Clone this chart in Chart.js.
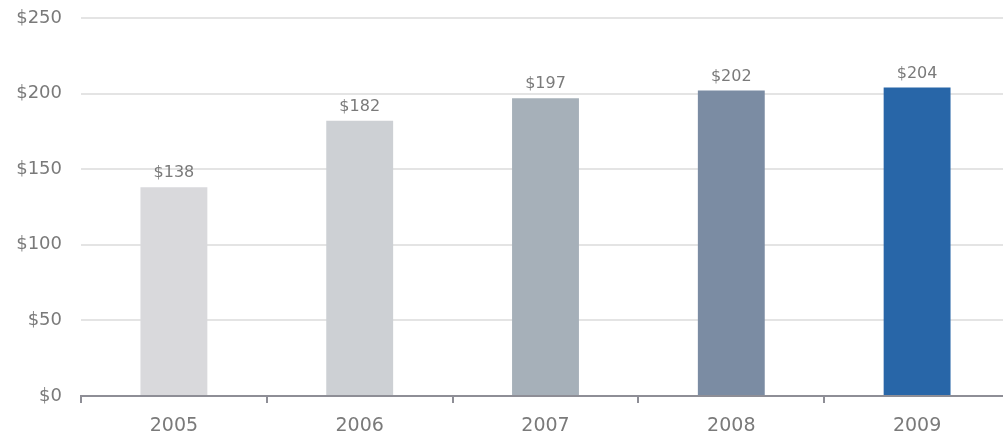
<!DOCTYPE html>
<html>
<head>
<meta charset="utf-8">
<script src="https://cdn.jsdelivr.net/npm/chart.js@4"></script>
<style>
	html, body { margin: 0; padding: 0; background: #ffffff; overflow: hidden; }
	#wrap { width: 1010px; height: 439px; }
</style>
</head>
<body>
<div id="wrap"><canvas id="revenueChart"></canvas></div>
<script>
const years = ['2005', '2006', '2007', '2008', '2009'];
const revenue = [138, 182, 197, 202, 204];
const barColors = ['#d9d9dc', '#cdd0d4', '#a6b0b9', '#7b8ca3', '#2866a8'];

const textColor = '#7a7a7a';
const fontFamily = '"DejaVu Sans", "Liberation Sans", sans-serif';

// dollar labels above each bar
const valueLabels = {
	id: 'valueLabels',
	afterDatasetsDraw(chart) {
		const ctx = chart.ctx;
		const meta = chart.getDatasetMeta(0);
		ctx.save();
		ctx.font = '16px ' + fontFamily;
		ctx.fillStyle = textColor;
		ctx.textAlign = 'center';
		ctx.textBaseline = 'alphabetic';
		meta.data.forEach((bar, i) => {
			ctx.fillText('$' + revenue[i], bar.x, bar.y - 10);
		});
		ctx.restore();
	}
};

const ctx = document.getElementById('revenueChart').getContext('2d');

new Chart(ctx, {
	type: 'bar',
	data: {
		labels: years,
		datasets: [{
			data: revenue,
			backgroundColor: barColors,
			categoryPercentage: 1,
			barPercentage: 0.36
		}]
	},
	options: {
		responsive: true,
		maintainAspectRatio: false,
		animation: false,
		layout: { padding: { top: 18, right: 0, bottom: 0, left: 0 } },
		plugins: {
			legend: { display: false },
			tooltip: { enabled: false }
		},
		scales: {
			x: {
				offset: true,
				grid: {
					offset: true,
					drawOnChartArea: false,
					drawTicks: true,
					tickLength: 7,
					color: '#8e8e96',
					lineWidth: 2
				},
				border: { color: '#8e8e96', width: 2 },
				ticks: {
					color: textColor,
					font: { family: fontFamily, size: 19 },
					padding: 12
				},
				afterFit(scale) {
					scale.height = 43;
					scale.paddingLeft = 0;
					scale.paddingRight = 0;
				}
			},
			y: {
				min: 0,
				max: 250,
				ticks: {
					stepSize: 50,
					color: textColor,
					font: { family: fontFamily, size: 18 },
					padding: 19,
					callback: v => '$' + v
				},
				grid: {
					color: '#e4e4e4',
					lineWidth: 2,
					drawTicks: false
				},
				border: { display: false },
				afterFit(scale) {
					scale.width = 81;
					scale.paddingTop = 0;
					scale.paddingBottom = 0;
				}
			}
		}
	},
	plugins: [valueLabels]
});
</script>
</body>
</html>
